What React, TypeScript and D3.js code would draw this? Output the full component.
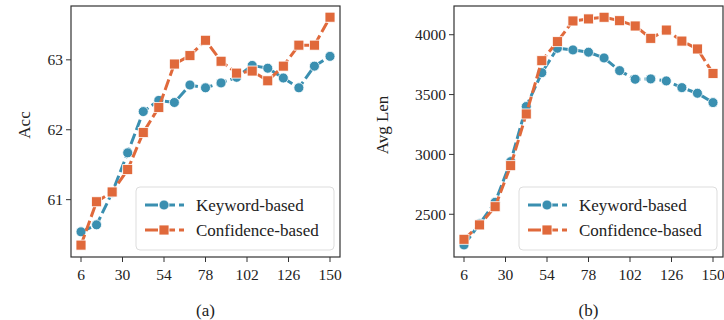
import * as d3 from 'd3';
import React from 'react';

// sampling steps on the x axis
const steps = [6, 15, 24, 33, 42, 51, 60, 69, 78, 87, 96, 105, 114, 123, 132, 141, 150];
const xTicks = [6, 30, 54, 78, 102, 126, 150];

// (a) accuracy
const accKeyword = [60.54, 60.64, 61.1, 61.67, 62.26, 62.42, 62.39, 62.64, 62.6, 62.67, 62.75, 62.92, 62.88, 62.74, 62.6, 62.91, 63.05];
const accConfidence = [60.35, 60.97, 61.11, 61.43, 61.96, 62.32, 62.94, 63.06, 63.28, 62.98, 62.81, 62.84, 62.7, 62.91, 63.21, 63.21, 63.61];
const accTicks = [61, 62, 63];

// (b) average length
const lenKeyword = [2244, 2420, 2600, 2940, 3400, 3683, 3887, 3873, 3854, 3806, 3700, 3628, 3631, 3614, 3558, 3511, 3433];
const lenConfidence = [2291, 2411, 2563, 2906, 3338, 3783, 3942, 4115, 4132, 4146, 4117, 4073, 3970, 4039, 3947, 3881, 3677];
const lenTicks = [2500, 3000, 3500, 4000];

const seriesNames = ['Keyword-based', 'Confidence-based'];
const BLUE = '#3a8fb0';
const ORANGE = '#e0693b';
const FONT = '"Liberation Serif", "Times New Roman", serif';

interface PanelProps {
  left: number;
  labelX: number;
  yLabel: string;
  yDomain: [number, number];
  yTicks: number[];
  keyword: number[];
  confidence: number[];
  caption: string;
}

const top = 6;
const bottom = 257;
const plotW = 269;

function Panel({ left, labelX, yLabel, yDomain, yTicks, keyword, confidence, caption }: PanelProps) {
  // tick 6 sits 10px inside the frame, tick 150 10px before the right edge
  const x = d3.scaleLinear().domain([6, 150]).range([left + 10, left + plotW - 10]);
  const y = d3.scaleLinear().domain(yDomain).range([bottom, top]);
  const line = d3
    .line<number>()
    .x((d, i) => x(steps[i]))
    .y((d) => y(d));

  const series = [
    { vals: keyword, color: BLUE, shape: 'circle' },
    { vals: confidence, color: ORANGE, shape: 'square' },
  ];

  const lgX = left + 65;
  const lgY = 187;

  return (
    <g fontFamily={FONT} fill="#222">
      {series.map((s, k) => (
        <g key={k}>
          <path d={line(s.vals) || ''} fill="none" stroke={s.color} strokeWidth={3} strokeDasharray="11,4" />
          {s.vals.map((v, i) =>
            s.shape === 'circle' ? (
              <circle key={i} cx={x(steps[i])} cy={y(v)} r={5} fill={s.color} stroke="#fff" strokeWidth={0.8} />
            ) : (
              <rect key={i} x={x(steps[i]) - 5} y={y(v) - 5} width={10} height={10} fill={s.color} stroke="#fff" strokeWidth={0.8} />
            )
          )}
        </g>
      ))}

      {/* frame */}
      <rect x={left} y={top} width={plotW} height={bottom - top} fill="none" stroke="#333" strokeWidth={1.2} />

      {/* x axis */}
      {xTicks.map((t) => (
        <g key={t}>
          <line x1={x(t)} x2={x(t)} y1={bottom} y2={bottom + 5} stroke="#333" strokeWidth={1} />
          <text x={x(t)} y={bottom + 23} textAnchor="middle" fontSize={15.5}>
            {t}
          </text>
        </g>
      ))}

      {/* y axis */}
      {yTicks.map((t) => (
        <g key={t}>
          <line x1={left - 5} x2={left} y1={y(t)} y2={y(t)} stroke="#333" strokeWidth={1} />
          <text x={left - 8} y={y(t)} dy="0.35em" textAnchor="end" fontSize={15.5}>
            {t}
          </text>
        </g>
      ))}
      <text transform={`translate(${labelX}, 125) rotate(-90)`} textAnchor="middle" fontSize={17}>
        {yLabel}
      </text>

      {/* legend */}
      <rect x={lgX} y={lgY} width={198} height={63} rx={4} fill="#fff" fillOpacity={0.85} stroke="#ddd" strokeWidth={1} />
      {series.map((s, k) => {
        const ly = lgY + 18 + k * 25;
        const cx = lgX + 28;
        return (
          <g key={k}>
            <line x1={lgX + 9} x2={lgX + 48} y1={ly} y2={ly} stroke={s.color} strokeWidth={3} strokeDasharray="13,4" />
            {s.shape === 'circle' ? (
              <circle cx={cx} cy={ly} r={5} fill={s.color} stroke="#fff" strokeWidth={0.8} />
            ) : (
              <rect x={cx - 5} y={ly - 5} width={10} height={10} fill={s.color} stroke="#fff" strokeWidth={0.8} />
            )}
            <text x={lgX + 60} y={ly} dy="0.35em" fontSize={17}>
              {seriesNames[k]}
            </text>
          </g>
        );
      })}

      <text x={left + plotW / 2} y={316} textAnchor="middle" fontSize={17}>
        {caption}
      </text>
    </g>
  );
}

export default function App() {
  return (
    <svg width={724} height={320} style={{ position: 'absolute', left: 0, top: 0, background: '#fff' }}>
      <Panel
        left={71}
        labelX={30}
        yLabel="Acc"
        yDomain={[60.18, 63.77]}
        yTicks={accTicks}
        keyword={accKeyword}
        confidence={accConfidence}
        caption="(a)"
      />
      <Panel
        left={454}
        labelX={388}
        yLabel="Avg Len"
        yDomain={[2143, 4240]}
        yTicks={lenTicks}
        keyword={lenKeyword}
        confidence={lenConfidence}
        caption="(b)"
      />
    </svg>
  );
}
